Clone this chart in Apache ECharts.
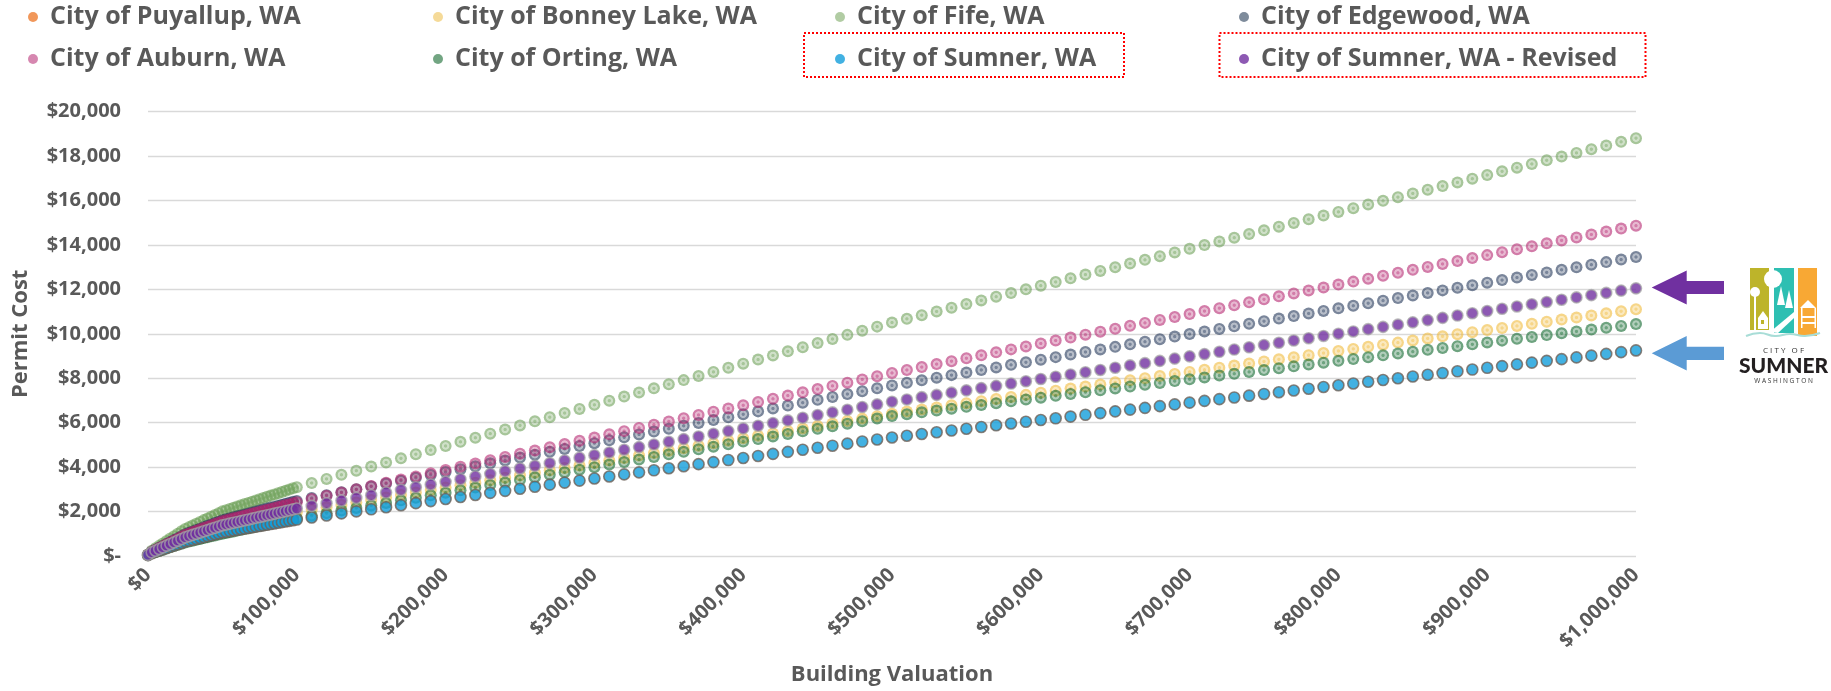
<!DOCTYPE html>
<html>
<head>
<meta charset="utf-8">
<script src="https://cdn.jsdelivr.net/npm/echarts/dist/echarts.min.js"></script>
<style>
  html, body { margin: 0; padding: 0; background: #ffffff; }
  #chart { width: 1831px; height: 691px; }
</style>
</head>
<body>
<div id="chart"></div>
<script>
// ---------------- DATA ----------------
const valuation = [
  0, 2500, 5000, 7500, 10000, 12500, 15000, 17500, 20000, 22500,
  25000, 27500, 30000, 32500, 35000, 37500, 40000, 42500, 45000, 47500,
  50000, 52500, 55000, 57500, 60000, 62500, 65000, 67500, 70000, 72500,
  75000, 77500, 80000, 82500, 85000, 87500, 90000, 92500, 95000, 97500,
  100000, 110000, 120000, 130000, 140000, 150000, 160000, 170000, 180000, 190000,
  200000, 210000, 220000, 230000, 240000, 250000, 260000, 270000, 280000, 290000,
  300000, 310000, 320000, 330000, 340000, 350000, 360000, 370000, 380000, 390000,
  400000, 410000, 420000, 430000, 440000, 450000, 460000, 470000, 480000, 490000,
  500000, 510000, 520000, 530000, 540000, 550000, 560000, 570000, 580000, 590000,
  600000, 610000, 620000, 630000, 640000, 650000, 660000, 670000, 680000, 690000,
  700000, 710000, 720000, 730000, 740000, 750000, 760000, 770000, 780000, 790000,
  800000, 810000, 820000, 830000, 840000, 850000, 860000, 870000, 880000, 890000,
  900000, 910000, 920000, 930000, 940000, 950000, 960000, 970000, 980000, 990000,
  1000000
];

const puyallup = [];

const bonneyLake = [
  47, 151, 220, 290, 359, 428, 498, 567, 636, 706, 775, 825, 875, 925, 975, 1025, 1075, 1125, 1175, 1225,
  1275, 1310, 1345, 1379, 1414, 1449, 1483, 1518, 1553, 1587, 1622, 1657, 1691, 1726, 1761, 1795, 1830, 1865, 1899, 1934,
  1969, 2080, 2190, 2301, 2412, 2523, 2634, 2745, 2856, 2967, 3078, 3189, 3300, 3411, 3522, 3633, 3744, 3855, 3966, 4077,
  4187, 4298, 4409, 4520, 4631, 4742, 4853, 4964, 5075, 5186, 5297, 5408, 5519, 5630, 5741, 5852, 5963, 6073, 6184, 6295, 6406,
  6500, 6594, 6689, 6783, 6877, 6971, 7065, 7159, 7253, 7347, 7441, 7535, 7629, 7724, 7818, 7912, 8006, 8100, 8194, 8288,
  8382, 8476, 8570, 8664, 8759, 8853, 8947, 9041, 9135, 9229, 9323, 9417, 9511, 9605, 9700, 9794, 9888, 9982, 10076, 10170,
  10264, 10358, 10452, 10546, 10641, 10735, 10829, 10923, 11017, 11111
];

const fife = [
  73, 238, 347, 456, 566, 675, 784, 893, 1002, 1112, 1221, 1299, 1378, 1457, 1536, 1615, 1693, 1772, 1851, 1930,
  2009, 2063, 2118, 2172, 2227, 2282, 2336, 2391, 2445, 2500, 2555, 2609, 2664, 2718, 2773, 2828, 2882, 2937, 2991, 3046,
  3100, 3285, 3471, 3656, 3841, 4026, 4212, 4397, 4582, 4767, 4953, 5138, 5323, 5508, 5694, 5879, 6064, 6249, 6435, 6620,
  6805, 6990, 7176, 7361, 7546, 7731, 7917, 8102, 8287, 8472, 8658, 8843, 9028, 9213, 9399, 9584, 9769, 9954, 10140, 10325, 10510,
  10676, 10842, 11008, 11174, 11340, 11506, 11672, 11838, 12004, 12170, 12336, 12502, 12668, 12834, 13000, 13166, 13332, 13498, 13664, 13830,
  13996, 14162, 14328, 14494, 14660, 14826, 14992, 15158, 15324, 15490, 15656, 15822, 15988, 16154, 16320, 16486, 16652, 16818, 16984, 17150,
  17316, 17482, 17648, 17814, 17980, 18146, 18312, 18478, 18644, 18810
];

const edgewood = [
  59, 191, 278, 366, 453, 541, 628, 716, 803, 891, 978, 1041, 1104, 1168, 1231, 1294, 1357, 1420, 1483, 1546,
  1609, 1653, 1697, 1741, 1784, 1828, 1872, 1916, 1959, 2003, 2047, 2091, 2134, 2178, 2222, 2266, 2309, 2353, 2397, 2441,
  2480, 2610, 2740, 2870, 3000, 3130, 3260, 3390, 3520, 3650, 3780, 3910, 4040, 4170, 4300, 4430, 4560, 4690, 4820, 4950,
  5080, 5210, 5340, 5470, 5600, 5730, 5860, 5990, 6120, 6250, 6380, 6510, 6640, 6770, 6900, 7030, 7160, 7290, 7420, 7550, 7680,
  7796, 7911, 8027, 8142, 8258, 8374, 8489, 8605, 8720, 8836, 8952, 9067, 9183, 9298, 9414, 9530, 9645, 9761, 9876, 9992,
  10108, 10223, 10339, 10454, 10570, 10686, 10801, 10917, 11032, 11148, 11264, 11379, 11495, 11610, 11726, 11842, 11957, 12073, 12188, 12304,
  12420, 12535, 12651, 12766, 12882, 12998, 13113, 13229, 13344, 13460
];

const auburn = [
  57, 186, 271, 356, 441, 527, 612, 697, 782, 867, 953, 1014, 1076, 1137, 1199, 1260, 1322, 1383, 1445, 1506,
  1568, 1610, 1653, 1695, 1738, 1781, 1823, 1866, 1908, 1951, 1994, 2036, 2079, 2121, 2164, 2207, 2249, 2292, 2335, 2377,
  2420, 2566, 2711, 2857, 3002, 3148, 3293, 3439, 3584, 3730, 3875, 4021, 4166, 4312, 4457, 4603, 4748, 4894, 5039, 5185,
  5330, 5476, 5621, 5767, 5912, 6058, 6203, 6349, 6494, 6640, 6785, 6931, 7076, 7222, 7367, 7513, 7658, 7804, 7949, 8095, 8240,
  8373, 8505, 8638, 8770, 8903, 9036, 9168, 9301, 9433, 9566, 9699, 9831, 9964, 10096, 10229, 10362, 10494, 10627, 10759, 10892,
  11025, 11157, 11290, 11422, 11555, 11688, 11820, 11953, 12085, 12218, 12351, 12483, 12616, 12748, 12881, 13014, 13146, 13279, 13411, 13544,
  13677, 13809, 13942, 14074, 14207, 14340, 14472, 14605, 14737, 14870
];

const orting = [
  37, 119, 174, 228, 283, 337, 392, 447, 501, 556, 610, 650, 689, 729, 768, 807, 847, 886, 925, 965,
  1004, 1039, 1074, 1108, 1143, 1178, 1213, 1248, 1282, 1317, 1352, 1387, 1422, 1456, 1491, 1526, 1561, 1596, 1630, 1665,
  1700, 1815, 1930, 2045, 2160, 2275, 2390, 2505, 2620, 2735, 2850, 2965, 3080, 3195, 3310, 3425, 3540, 3655, 3770, 3885,
  4000, 4115, 4230, 4345, 4460, 4575, 4690, 4805, 4920, 5035, 5150, 5265, 5380, 5495, 5610, 5725, 5840, 5955, 6070, 6185, 6300,
  6383, 6466, 6548, 6631, 6714, 6797, 6880, 6962, 7045, 7128, 7211, 7294, 7376, 7459, 7542, 7625, 7708, 7790, 7873, 7956,
  8039, 8122, 8204, 8287, 8370, 8453, 8536, 8618, 8701, 8784, 8867, 8950, 9032, 9115, 9198, 9281, 9364, 9446, 9529, 9612,
  9695, 9778, 9860, 9943, 10026, 10109, 10192, 10274, 10357, 10440
];

const sumner = [
  39, 126, 184, 241, 299, 357, 415, 472, 530, 588, 646, 687, 729, 771, 812, 854, 896, 937, 979, 1021,
  1062, 1091, 1120, 1149, 1178, 1207, 1235, 1264, 1293, 1322, 1351, 1380, 1409, 1438, 1466, 1495, 1524, 1553, 1582, 1611,
  1640, 1732, 1825, 1917, 2009, 2102, 2194, 2286, 2379, 2471, 2564, 2656, 2749, 2841, 2933, 3026, 3118, 3211, 3303, 3395,
  3488, 3580, 3673, 3765, 3857, 3950, 4042, 4134, 4227, 4319, 4412, 4504, 4596, 4689, 4781, 4874, 4966, 5058, 5151, 5243, 5336,
  5414, 5493, 5571, 5649, 5728, 5806, 5884, 5963, 6041, 6120, 6198, 6276, 6355, 6433, 6511, 6590, 6668, 6746, 6825, 6903,
  6982, 7060, 7138, 7217, 7295, 7373, 7452, 7530, 7609, 7687, 7765, 7844, 7922, 8000, 8079, 8157, 8235, 8314, 8392, 8471,
  8549, 8627, 8706, 8784, 8862, 8941, 9019, 9097, 9176, 9254
];

const sumnerRevised = [
  50, 164, 239, 314, 389, 465, 540, 615, 690, 765, 840, 895, 949, 1003, 1057, 1112, 1166, 1220, 1274, 1329,
  1383, 1420, 1458, 1496, 1533, 1571, 1608, 1646, 1683, 1721, 1759, 1796, 1834, 1871, 1909, 1947, 1984, 2022, 2059, 2097,
  2135, 2255, 2375, 2495, 2616, 2736, 2856, 2977, 3097, 3217, 3338, 3458, 3578, 3698, 3819, 3939, 4059, 4180, 4300, 4420,
  4540, 4661, 4781, 4901, 5022, 5142, 5262, 5382, 5503, 5623, 5743, 5864, 5984, 6104, 6225, 6345, 6465, 6585, 6706, 6826, 6946,
  7048, 7150, 7252, 7354, 7456, 7558, 7660, 7762, 7865, 7967, 8069, 8171, 8273, 8375, 8477, 8579, 8681, 8783, 8885, 8987,
  9089, 9191, 9293, 9395, 9497, 9599, 9701, 9803, 9905, 10007, 10109, 10211, 10313, 10415, 10517, 10619, 10721, 10823, 10925, 11027,
  11129, 11232, 11334, 11436, 11538, 11640, 11742, 11844, 11946, 12048
];

const seriesNames = [
  'City of Puyallup, WA', 'City of Bonney Lake, WA', 'City of Fife, WA', 'City of Edgewood, WA',
  'City of Auburn, WA', 'City of Orting, WA', 'City of Sumner, WA', 'City of Sumner, WA - Revised'
];
const seriesValues = [puyallup, bonneyLake, fife, edgewood, auburn, orting, sumner, sumnerRevised];

const xAxisTitle = 'Building Valuation';
const yAxisTitle = 'Permit Cost';

// ---------------- STYLE ----------------
function ring(r, g, b) {
  const d = 'rgba(' + r + ',' + g + ',' + b + ',0.74)';
  const l = 'rgba(' + r + ',' + g + ',' + b + ',0.40)';
  return {
    type: 'radial', x: 0.5, y: 0.5, r: 0.5,
    colorStops: [
      { offset: 0, color: d }, { offset: 0.2, color: d },
      { offset: 0.34, color: l }, { offset: 0.56, color: l },
      { offset: 0.68, color: d }, { offset: 1, color: d }
    ]
  };
}
const itemStyles = [
  { color: '#ED7D31' },
  { color: ring(240, 185, 55) },
  { color: ring(106, 158, 84) },
  { color: ring(30, 50, 85) },
  { color: ring(180, 35, 110) },
  { color: ring(10, 100, 40) },
  { color: '#139DDB', borderColor: '#6E6259', borderWidth: 1.6 },
  { color: '#7030A0', borderColor: 'rgba(165,165,165,0.9)', borderWidth: 1.6 }
];
const symbolSizes = [11, 12, 12, 12, 12, 12, 11, 11];
const legendIconColor = ['#ED7D31', '#F3D17E', '#9DBF8C', '#5E6E82', '#CC699C', '#4F8E63', '#139DDB', '#7030A0'];

const FONT = "'Open Sans', 'Noto Sans', sans-serif";
const TEXT_COLOR = '#595959';

const legendLeft = [28, 433, 835, 1239, 28, 433, 835, 1239];
const legendTop = [2, 2, 2, 2, 44, 44, 44, 44];

function moneyY(v) {
  if (v === 0) return '$-';
  return '$' + v.toLocaleString('en-US');
}
function moneyX(v) {
  return '$' + v.toLocaleString('en-US');
}

const chart = echarts.init(document.getElementById('chart'), null, { renderer: 'canvas' });

const series = seriesNames.map(function (name, i) {
  const ys = seriesValues[i];
  const data = [];
  for (let k = 0; k < valuation.length; k++) {
    if (ys[k] !== undefined) data.push([valuation[k], ys[k]]);
  }
  return {
    name: name,
    type: 'scatter',
    symbol: 'circle',
    symbolSize: symbolSizes[i],
    data: data,
    itemStyle: itemStyles[i],
    silent: true,
    large: false,
    progressive: 0,
    z: 2 + i
  };
});

const legends = seriesNames.map(function (name, i) {
  return {
    data: [{ name: name, icon: 'circle', itemStyle: { color: legendIconColor[i], borderWidth: 0 } }],
    left: legendLeft[i],
    top: legendTop[i],
    padding: 0,
    itemWidth: 24,
    itemHeight: 10,
    selectedMode: false,
    textStyle: { fontFamily: FONT, fontWeight: 'bold', fontSize: 25, color: TEXT_COLOR, lineHeight: 30 }
  };
});

// decorations: dotted highlight boxes, arrows, logo
const graphic = [
  { type: 'rect', shape: { x: 804, y: 33, width: 320, height: 44 },
    style: { fill: 'none', stroke: '#FF0000', lineWidth: 2, lineDash: [2, 2] } },
  { type: 'rect', shape: { x: 1219.5, y: 33, width: 426, height: 44 },
    style: { fill: 'none', stroke: '#FF0000', lineWidth: 2, lineDash: [2, 2] } },
  { type: 'polygon', shape: { points: [[1651.7, 287.5], [1686.7, 270.5], [1686.7, 281], [1724, 281], [1724, 294], [1686.7, 294], [1686.7, 304.5]] },
    style: { fill: '#7030A0' } },
  { type: 'polygon', shape: { points: [[1651.7, 353.3], [1686.7, 336], [1686.7, 346.7], [1724, 346.7], [1724, 360], [1686.7, 360], [1686.7, 370.6]] },
    style: { fill: '#5B9BD5' } },
  // logo panels
  { type: 'rect', shape: { x: 1750, y: 268, width: 19, height: 62 }, style: { fill: '#BDB42A' } },
  { type: 'rect', shape: { x: 1774, y: 268, width: 20, height: 65 }, style: { fill: '#2EBFB2' } },
  { type: 'rect', shape: { x: 1798, y: 268, width: 19, height: 68 }, style: { fill: '#F8A834' } },
  // white silhouettes
  { type: 'circle', shape: { cx: 1773, cy: 279, r: 9 }, style: { fill: '#ffffff' } },
  { type: 'circle', shape: { cx: 1755, cy: 292, r: 5 }, style: { fill: '#ffffff' } },
  { type: 'rect', shape: { x: 1754, y: 292, width: 2, height: 38 }, style: { fill: '#ffffff' } },
  { type: 'polygon', shape: { points: [[1758, 318], [1763, 311], [1768, 318], [1768, 329], [1758, 329]] }, style: { fill: '#ffffff' } },
  { type: 'rect', shape: { x: 1761, y: 320, width: 3, height: 4 }, style: { fill: '#BDB42A' } },
  { type: 'polygon', shape: { points: [[1777, 305], [1781, 286], [1785, 305]] }, style: { fill: '#ffffff' } },
  { type: 'polygon', shape: { points: [[1785, 308], [1789, 290], [1793, 308]] }, style: { fill: '#ffffff' } },
  { type: 'polygon', shape: { points: [[1770, 332], [1794, 312], [1794, 318], [1778, 333]] }, style: { fill: '#ffffff' } },
  { type: 'polygon', shape: { points: [[1800, 308], [1808, 300], [1816, 308]] }, style: { fill: '#ffffff' } },
  { type: 'rect', shape: { x: 1801, y: 316, width: 15, height: 2 }, style: { fill: '#ffffff' } },
  { type: 'rect', shape: { x: 1801, y: 322, width: 15, height: 2 }, style: { fill: '#ffffff' } },
  { type: 'rect', shape: { x: 1801, y: 308, width: 1.5, height: 20 }, style: { fill: '#ffffff' } },
  { type: 'rect', shape: { x: 1814.5, y: 308, width: 1.5, height: 20 }, style: { fill: '#ffffff' } },
  { type: 'polyline', shape: { points: [[1746, 336], [1760, 333], [1775, 336], [1790, 334], [1805, 336], [1820, 333]], smooth: 0.5 },
    style: { stroke: '#A8DDD7', lineWidth: 2, fill: 'none' } },
  { type: 'text', style: { text: 'C I T Y   O F', x: 1783.5, y: 351, fill: '#333333', fontSize: 8, fontFamily: FONT,
      textAlign: 'center', textVerticalAlign: 'middle', align: 'center', verticalAlign: 'middle' } },
  { type: 'text', style: { text: 'SUMNER', x: 1783.5, y: 366, fill: '#231F20', fontSize: 21, fontWeight: 900, fontFamily: "'Lato', 'Open Sans', sans-serif",
      textAlign: 'center', textVerticalAlign: 'middle', align: 'center', verticalAlign: 'middle' } },
  { type: 'text', style: { text: 'W A S H I N G T O N', x: 1783.5, y: 381, fill: '#333333', fontSize: 6.5, fontFamily: FONT,
      textAlign: 'center', textVerticalAlign: 'middle', align: 'center', verticalAlign: 'middle' } }
];

chart.setOption({
  animation: false,
  backgroundColor: '#ffffff',
  legend: legends,
  grid: { left: 148, right: 195, top: 111.7, bottom: 131, containLabel: false },
  xAxis: {
    type: 'value', min: 0, max: 1000000, interval: 100000,
    name: xAxisTitle, nameLocation: 'middle', nameGap: 108,
    nameTextStyle: { fontFamily: FONT, fontWeight: 'bold', fontSize: 22, color: TEXT_COLOR },
    axisLine: { show: false }, axisTick: { show: false }, splitLine: { show: false },
    axisLabel: { rotate: 45, margin: 16, formatter: moneyX, fontFamily: FONT, fontWeight: 'bold', fontSize: 20, color: TEXT_COLOR,
      showMinLabel: true, showMaxLabel: true }
  },
  yAxis: {
    type: 'value', min: 0, max: 20000, interval: 2000,
    name: yAxisTitle, nameLocation: 'middle', nameGap: 116,
    nameTextStyle: { fontFamily: FONT, fontWeight: 'bold', fontSize: 22, color: TEXT_COLOR },
    axisLine: { show: false }, axisTick: { show: false },
    splitLine: { lineStyle: { color: '#D9D9D9', width: 1.3 } },
    axisLabel: { margin: 27, formatter: moneyY, fontFamily: FONT, fontWeight: 'bold', fontSize: 20, color: TEXT_COLOR }
  },
  series: series,
  graphic: graphic
});
</script>
</body>
</html>
